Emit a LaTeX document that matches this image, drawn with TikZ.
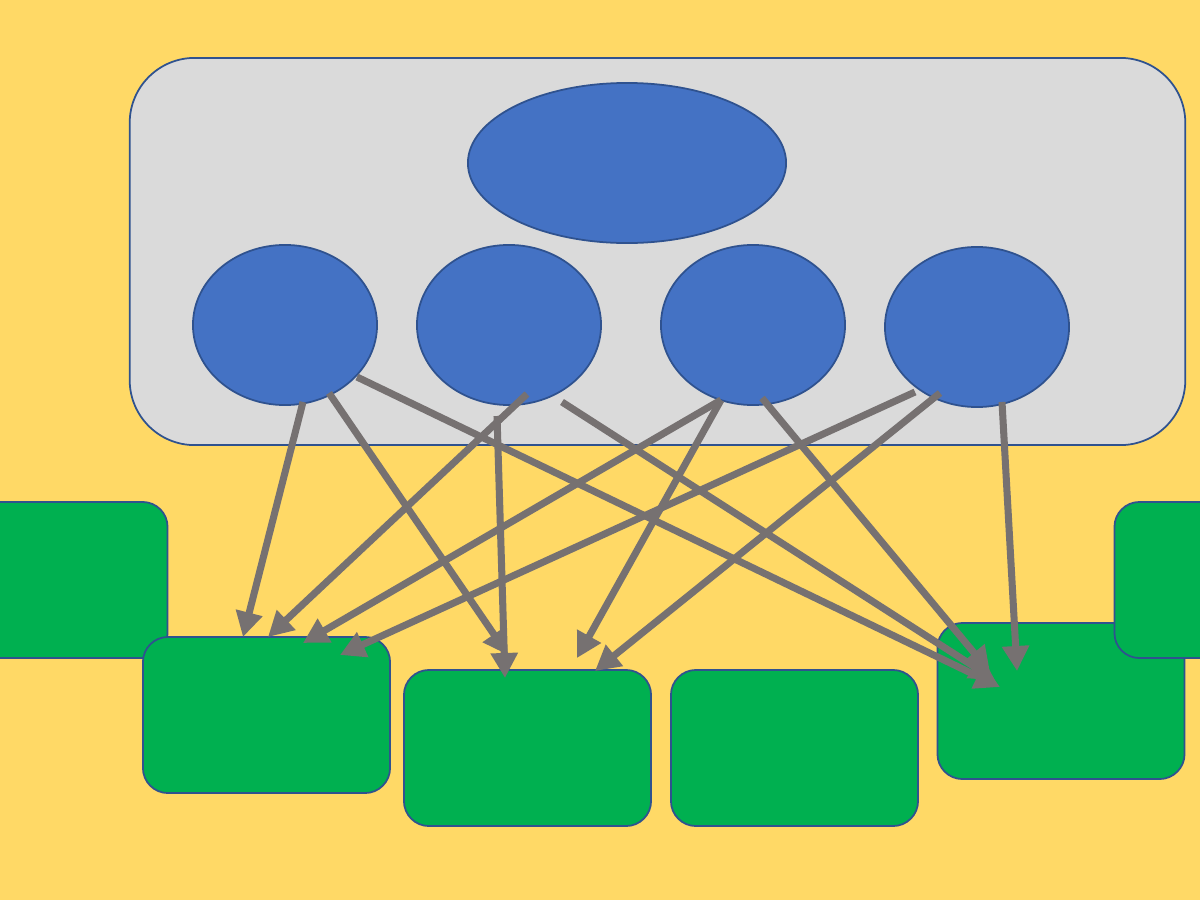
\documentclass[tikz,border=0pt]{standalone}
\usetikzlibrary{shapes.geometric,arrows.meta}
\definecolor{bgyellow}{HTML}{FFD966}
\definecolor{panelgray}{HTML}{DADADA}
\definecolor{blobblue}{HTML}{4472C4}
\definecolor{edgeblue}{HTML}{2F528F}
\definecolor{boxgreen}{HTML}{00B050}
\definecolor{arrowgray}{HTML}{767171}
\begin{document}
\begin{tikzpicture}[x=0.01cm,y=-0.01cm,
		blob/.style={ellipse,draw=edgeblue,fill=blobblue,line width=0.5pt,inner sep=0pt,minimum width=1.84cm,minimum height=1.6cm},
		box/.style={rectangle,rounded corners=0.25cm,draw=edgeblue,fill=boxgreen,line width=0.5pt,inner sep=0pt,minimum width=2.47cm,minimum height=1.56cm},
		link/.style={arrowgray,line width=2pt,-{Triangle[length=0.25cm,width=0.26cm]}}]
		\useasboundingbox (0,0) rectangle (1200,900);
		\clip (0,0) rectangle (1200,900);
		\fill[bgyellow] (0,0) rectangle (1200,900);
		% panel with the ellipses
		\node[rectangle,rounded corners=0.65cm,draw=edgeblue,fill=panelgray,line width=0.5pt,minimum width=10.55cm,minimum height=3.87cm] (panel) at (657.5,251.5) {};
		\node[blob,minimum width=3.18cm] (top) at (627,163) {};
		\node[blob] (e1) at (285,325) {};
		\node[blob] (e2) at (509,325) {};
		\node[blob] (e3) at (753,325) {};
		\node[blob] (e4) at (977,327) {};
		% boxes
		\node[box] (bl) at (44,580) {};
		\node[box] (ba) at (266.5,715) {};
		\node[box] (bb) at (527.5,748) {};
		\node[box] (bc) at (794.5,748) {};
		\node[box] (bd) at (1061,701) {};
		\node[box] (br) at (1238,580) {};
		% arrows
		\draw[link] ([shift={(18,77)}]e1.center) -- ([shift={(-23.5,-78)}]ba.center);
		\draw[link] ([shift={(44,68)}]e1.center) -- ([shift={(-19.5,-93)}]bb.center);
		\draw[link] ([shift={(72,52)}]e1.center) -- ([shift={(-61,-14)}]bd.center);
		\draw[link] ([shift={(18,69)}]e2.center) -- ([shift={(1.5,-78)}]ba.center);
		\draw[link] ([shift={(-12,91)}]e2.center) -- ([shift={(-22.5,-70)}]bb.center);
		\draw[link] ([shift={(53,77)}]e2.center) -- ([shift={(-66,-21)}]bd.center);
		\draw[link] ([shift={(-32,75)}]e3.center) -- ([shift={(36.5,-72)}]ba.center);
		\draw[link] ([shift={(-32,75)}]e3.center) -- ([shift={(49.5,-90)}]bb.center);
		\draw[link] ([shift={(9,73)}]e3.center) -- ([shift={(-71,-29)}]bd.center);
		\draw[link] ([shift={(-62,65)}]e4.center) -- ([shift={(73.5,-60)}]ba.center);
		\draw[link] ([shift={(-37,66)}]e4.center) -- ([shift={(67.5,-77)}]bb.center);
		\draw[link] ([shift={(25,75)}]e4.center) -- ([shift={(-44,-30)}]bd.center);
	\end{tikzpicture}
\end{document}
